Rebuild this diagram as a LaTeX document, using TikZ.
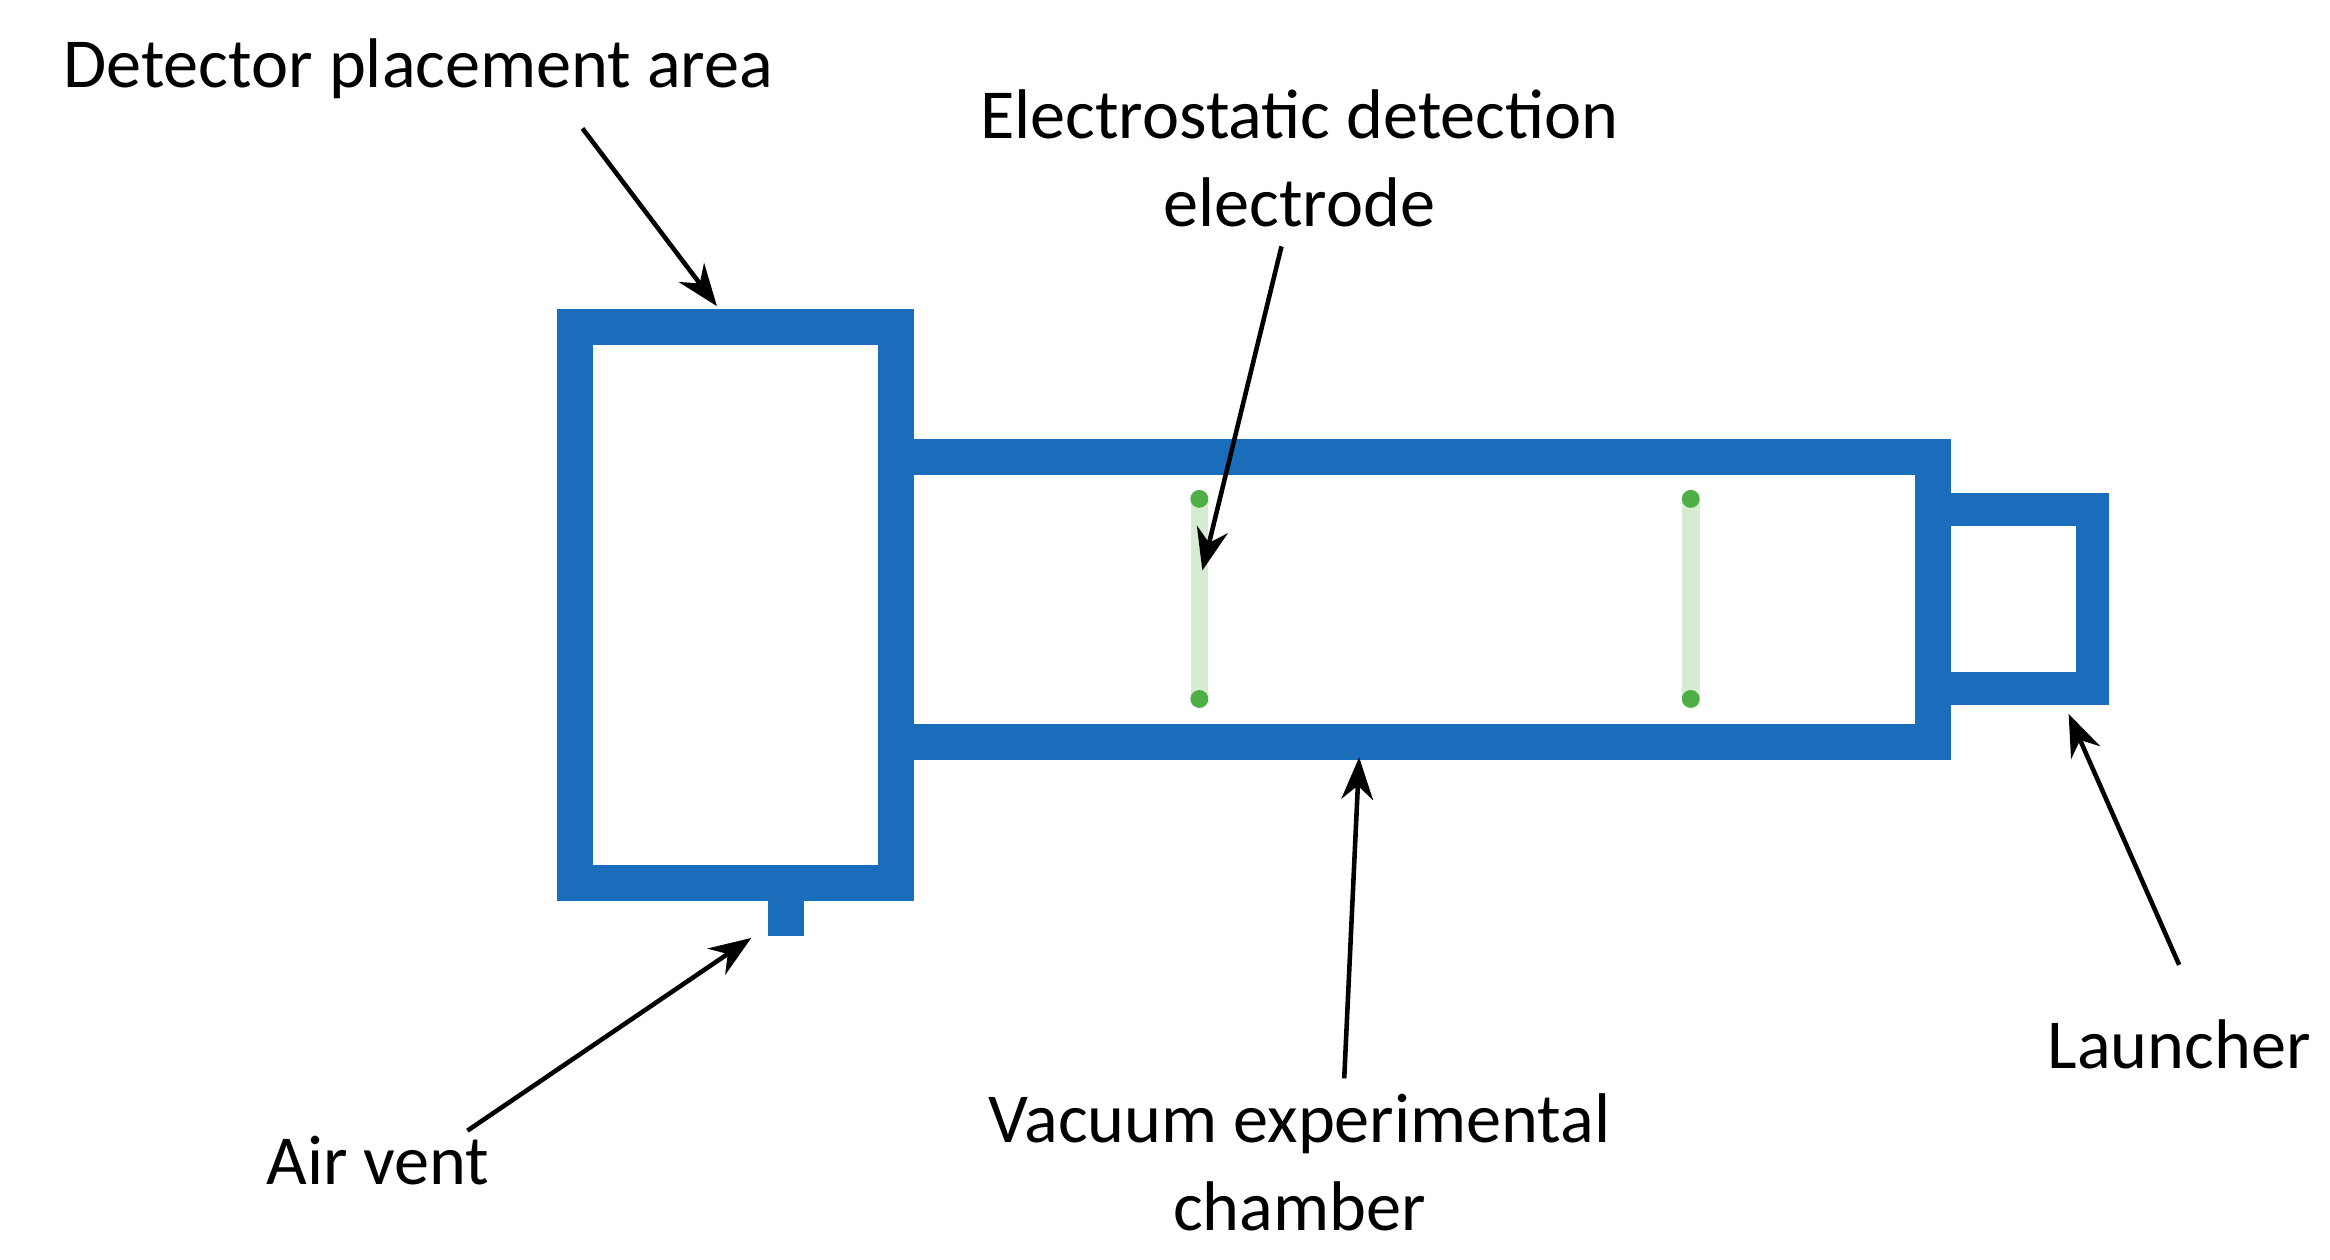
\documentclass[tikz,border=0pt]{standalone}
\usepackage{fontspec}
\usetikzlibrary{arrows.meta}
\setmainfont{Carlito}
\definecolor{wall}{HTML}{1A6DBA}
\definecolor{elec}{HTML}{D6EBD2}
\definecolor{dot}{HTML}{4DAF45}
\begin{document}
\begin{tikzpicture}[x=0.014936cm,y=-0.014936cm,
  w/.style={draw=wall,line width=10.2pt},
  lbl/.style={font=\fontsize{20pt}{25pt}\selectfont,align=center,inner sep=0pt},
  arr/.style={-{Stealth[length=12pt,width=9pt]},line width=1.3pt}]
\useasboundingbox (0,0) rectangle (1560,843);
\draw[w] (385,219) rectangle (600,591);
\draw[w] (600,306) -- (1294,306);
\draw[w] (600,497) -- (1294,497);
\draw[w,line cap=rect] (1294,306) -- (1294,497);
\draw[w,line width=9.4pt] (1306,341) -- (1401,341) -- (1401,461) -- (1306,461);
\fill[wall] (514,600) rectangle (538,627);
\foreach \x in {803,1132}{
  \draw[elec,line width=5pt] (\x,334) -- (\x,468);
  \fill[dot] (\x,334) circle (6);
  \fill[dot] (\x,468) circle (6);
}
\node[lbl] (t1) at (280,46) {Detector placement area};
\node[lbl] (t2) at (870,106) {Electrostatic detection\\electrode};
\node[lbl] (t3) at (253,777) {Air vent};
\node[lbl] (t4) at (870,778) {Vacuum experimental\\chamber};
\node[lbl] (t5) at (1459,699) {Launcher};
\coordinate (a1) at (390,86); \coordinate (b1) at (480,205);
\coordinate (a2) at (858,165); \coordinate (b2) at (805,382);
\coordinate (a3) at (313,757); \coordinate (b3) at (503,628);
\coordinate (a4) at (900,722); \coordinate (b4) at (910,507);
\coordinate (a5) at (1459,646); \coordinate (b5) at (1385,478);
\foreach \i in {1,...,5}{\draw[arr] (a\i) -- (b\i);}
\end{tikzpicture}
\end{document}
